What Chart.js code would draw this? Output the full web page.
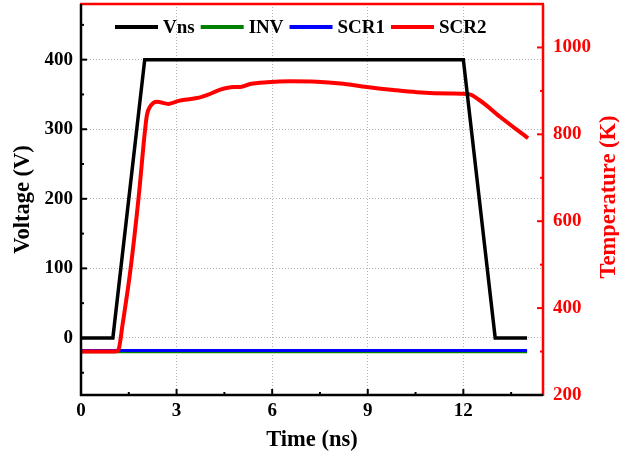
<!DOCTYPE html>
<html>
<head>
<meta charset="utf-8">
<script src="https://cdn.jsdelivr.net/npm/chart.js@4.4.1/dist/chart.umd.min.js"></script>
<style>
  html, body { margin: 0; padding: 0; background: #fff; }
</style>
</head>
<body>
<canvas id="pulse-chart" width="619" height="454"></canvas>
<script>
// Supply voltage pulse and device traces
const timeVns = [0, 1, 2, 12, 13, 14];
const vns = [0, 0, 400, 400, 0, 0];

const timeFlat = [0, 14];
const inv = [-20, -20];
const scr1 = [-18, -18];

// SCR2 temperature (K), right axis
const timeScr2 = [0, 1.08, 1.18, 1.3, 1.55, 1.81, 2.0, 2.07, 2.17, 2.38, 2.75, 3.06, 3.74, 3.95, 4.37, 4.79, 5.0, 5.31, 5.84, 6.57, 7.4, 8.14, 8.97, 9.81, 10.54, 11.59, 12.15, 12.5, 13.16, 14.03];
const scr2 = [300, 300, 305, 360, 487, 656, 803, 845, 864, 875, 870, 877, 885, 890, 903, 909, 909, 916, 920, 922, 921, 917, 909, 902, 897, 894, 893, 879, 840, 791];

// axis ticks
const timeTicks = [0, 3, 6, 9, 12];
const timeMinor = [1.5, 4.5, 7.5, 10.5, 13.5];
const voltTicks = [0, 100, 200, 300, 400];
const voltMinor = [-50, 50, 150, 250, 350, 450];
const tempTicks = [200, 400, 600, 800, 1000];
const tempMinor = [300, 500, 700, 900];

const RED = '#ff0000';
const FONT = "'Liberation Serif', 'Times New Roman', serif";
const TITLE_SIZE = 22.5;

Chart.defaults.font.family = FONT;
Chart.defaults.font.weight = 'bold';
Chart.defaults.color = '#000';

const toPoints = (xs, ys) => xs.map((x, i) => ({ x: x, y: ys[i] }));
const fixTicks = values => scale => { scale.ticks = values.map(v => ({ value: v })); };
const plain = v => String(v);

// inward ticks, coloured frame, in-plot legend and right title
const axisFrame = {
  id: 'axisFrame',
  afterDraw(chart) {
    const { ctx, chartArea } = chart;
    const { left, right, top, bottom } = chartArea;
    const sx = chart.scales.x, sy = chart.scales.y, st = chart.scales.yTemp;
    const seg = (x1, y1, x2, y2, color, w) => {
      ctx.strokeStyle = color;
      ctx.lineWidth = w;
      ctx.beginPath();
      ctx.moveTo(x1, y1);
      ctx.lineTo(x2, y2);
      ctx.stroke();
    };
    ctx.save();
    timeTicks.forEach(v => { const x = sx.getPixelForValue(v); seg(x, bottom, x, bottom - 6, '#000', 2); });
    timeMinor.forEach(v => { const x = sx.getPixelForValue(v); seg(x, bottom, x, bottom - 3, '#000', 2); });
    voltTicks.forEach(v => { const y = sy.getPixelForValue(v); seg(left, y, left + 6, y, '#000', 2); });
    voltMinor.forEach(v => { const y = sy.getPixelForValue(v); seg(left, y, left + 3, y, '#000', 2); });
    tempTicks.forEach(v => { const y = st.getPixelForValue(v); seg(right, y, right - 6, y, RED, 2); });
    tempMinor.forEach(v => { const y = st.getPixelForValue(v); seg(right, y, right - 3, y, RED, 2); });

    seg(left - 1, top, right + 1, top, RED, 2.5);
    seg(right, top, right, bottom + 1, RED, 2.5);
    seg(left - 1, bottom, right, bottom, '#000', 2.5);
    seg(left, top, left, bottom + 1, '#000', 2.5);

    // legend
    ctx.font = 'bold 19px ' + FONT;
    ctx.textBaseline = 'middle';
    ctx.textAlign = 'left';
    let x = 115;
    const y = 27;
    chart.data.datasets.forEach(ds => {
      seg(x, y, x + 43, y, ds.borderColor, 4);
      x += 48;
      ctx.fillStyle = '#000';
      ctx.fillText(ds.label, x, y + 1);
      x += ctx.measureText(ds.label).width + 6;
    });

    // right axis title, reading bottom to top
    ctx.translate(609, 197);
    ctx.rotate(-Math.PI / 2);
    ctx.textAlign = 'center';
    ctx.fillStyle = RED;
    ctx.font = 'bold ' + TITLE_SIZE + 'px ' + FONT;
    ctx.fillText('Temperature (K)', 0, 0);
    ctx.restore();
  }
};

const chart = new Chart(document.getElementById('pulse-chart'), {
  type: 'line',
  data: {
    datasets: [
      { label: 'Vns', data: toPoints(timeVns, vns), borderColor: '#000', borderWidth: 3.5, yAxisID: 'y', order: 1 },
      { label: 'INV', data: toPoints(timeFlat, inv), borderColor: '#008000', borderWidth: 3, yAxisID: 'y', order: 4 },
      { label: 'SCR1', data: toPoints(timeFlat, scr1), borderColor: '#0000ff', borderWidth: 3, yAxisID: 'y', order: 3 },
      { label: 'SCR2', data: toPoints(timeScr2, scr2), borderColor: RED, borderWidth: 4, yAxisID: 'yTemp', order: 2, cubicInterpolationMode: 'monotone' }
    ]
  },
  options: {
    responsive: false,
    animation: false,
    devicePixelRatio: 1,
    layout: { padding: { top: 4, left: 0, right: 0, bottom: 0 } },
    elements: { point: { radius: 0 }, line: { borderCapStyle: 'butt', borderJoinStyle: 'miter' } },
    plugins: { legend: { display: false }, tooltip: { enabled: false } },
    scales: {
      x: {
        type: 'linear',
        min: 0,
        max: 14.5,
        afterBuildTicks: fixTicks(timeTicks),
        afterFit: s => { s.height = 59; s.paddingLeft = 0; s.paddingRight = 0; },
        grid: { color: '#b4b4b4', lineWidth: 1, drawTicks: false },
        border: { display: false, dash: [1, 2] },
        ticks: { padding: 5, font: { size: 19 }, maxRotation: 0, callback: plain },
        title: { display: true, text: 'Time (ns)', font: { size: TITLE_SIZE }, padding: { top: 3, bottom: 0 } }
      },
      y: {
        position: 'left',
        min: -82,
        max: 480,
        afterBuildTicks: fixTicks(voltTicks),
        afterFit: s => { s.width = 81; s.paddingTop = 0; s.paddingBottom = 0; },
        grid: { color: '#b4b4b4', lineWidth: 1, drawTicks: false },
        border: { display: false, dash: [1, 2] },
        ticks: { padding: 8, font: { size: 19 }, callback: plain },
        title: { display: true, text: 'Voltage (V)', font: { size: TITLE_SIZE }, padding: { top: 10, bottom: 0 } }
      },
      yTemp: {
        position: 'right',
        min: 200,
        max: 1100,
        afterBuildTicks: fixTicks(tempTicks),
        afterFit: s => { s.width = 76; s.paddingTop = 0; s.paddingBottom = 0; },
        grid: { display: false, drawTicks: false },
        border: { display: false },
        ticks: { padding: 10, color: RED, font: { size: 19 }, callback: plain }
      }
    }
  },
  plugins: [axisFrame]
});
</script>
</body>
</html>
